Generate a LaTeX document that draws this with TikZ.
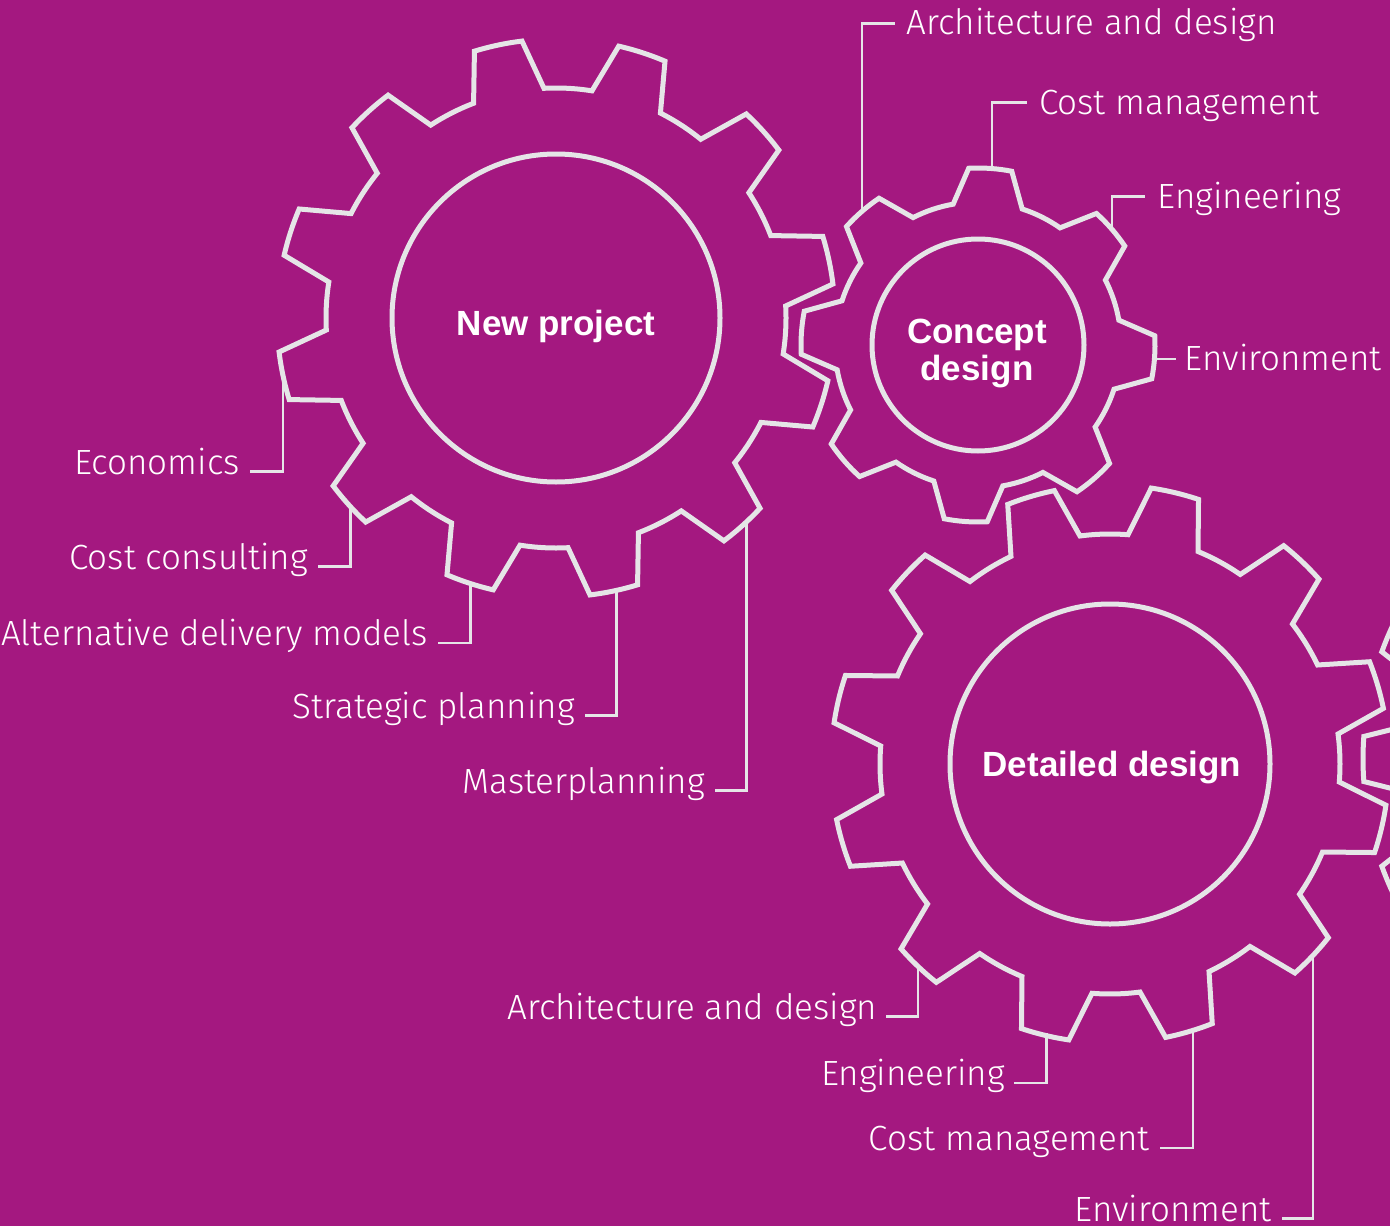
\documentclass[tikz,border=0pt]{standalone}
\usepackage{fontspec}
\setmainfont{Fira Sans Light}
\newfontfamily\titlefont{Liberation Sans Bold}

\definecolor{plum}{RGB}{164,24,128}
\definecolor{cog}{RGB}{229,229,231}

% cog outline: centre, tip radius, root radius, teeth, first tip angle, tip and flank width (deg)
\newcommand{\cogwheel}[7]{%
  \begin{scope}[shift={(#1)}]
    \pgfmathsetmacro{\cogpitch}{360/#4}
    \draw[cogline] ({#5-#6/2}:#2)
      \foreach \k [evaluate=\k as \a using #5+(\k-1)*\cogpitch] in {1,...,#4} {
        arc[start angle={\a-#6/2}, end angle={\a+#6/2}, radius=#2]
        -- ({\a+#6/2+#7}:#3)
        arc[start angle={\a+#6/2+#7}, end angle={\a+\cogpitch-#6/2-#7}, radius=#3]
        -- ({\a+\cogpitch-#6/2}:#2)
      } -- cycle;
  \end{scope}}

\begin{document}
\begin{tikzpicture}[x=1pt,y=1pt,line join=miter,
    cogline/.style={draw=cog, line width=5pt},
    hub/.style={circle, draw=cog, line width=5pt, inner sep=0pt},
    hubtitle/.style={text=white, font=\titlefont\fontsize{35}{37}\selectfont, align=center, inner sep=0pt},
    tagtext/.style={text=white, font=\fontsize{35}{40}\selectfont, inner sep=0pt},
    leader/.style={draw=cog, line width=2.4pt}]
      \useasboundingbox (0,0) rectangle (1390,-1226);
      \fill[plum] (0,0) rectangle (1390,-1226);
      \clip (0,0) rectangle (1390,-1226);
      % cogs
      \cogwheel{556,-318}{279}{230}{12}{12}{10}{4}
      \cogwheel{978,-345}{177}{143}{8}{41}{14}{7}
      \cogwheel{1110,-764}{279}{230}{12}{16.5}{10}{4}
      \cogwheel{1678,-759}{315}{266}{15}{180}{8.2}{3.5}
      % hubs
      \node[hub, minimum size=328] (newproj) at (556,-318) {};
      \node[hub, minimum size=212] (concept) at (978,-345) {};
      \node[hub, minimum size=320] (detailed) at (1110,-764) {};
      \node[hubtitle, anchor=base] (newprojname) at (556,-335) {New project};
      \node[hubtitle, anchor=base] (conceptname) at (977,-380) {Concept\\design};
      \node[hubtitle, anchor=base] (detailedname) at (1112,-776.7) {Detailed design};
      % New project
      \node[tagtext, anchor=base east] (econ) at (240,-474) {Economics};
      \node[tagtext, anchor=base east] (costcons) at (308,-569) {Cost consulting};
      \node[tagtext, anchor=base east] (altdel) at (428,-645.7) {Alternative delivery models};
      \node[tagtext, anchor=base east] (strat) at (575,-718.3) {Strategic planning};
      \node[tagtext, anchor=base east] (master) at (705,-793.3) {Masterplanning};
      \coordinate (econpin) at (283,-370);
      \coordinate (costconspin) at (350.5,-505);
      \coordinate (altdelpin) at (470.4,-582.5);
      \coordinate (stratpin) at (616.3,-589.3);
      \coordinate (masterpin) at (746.4,-520.5);
      \draw[leader] ([xshift=10]econ.mid east) -| (econpin);
      \draw[leader] ([xshift=10]costcons.mid east) -| (costconspin);
      \draw[leader] ([xshift=10]altdel.mid east) -| (altdelpin);
      \draw[leader] ([xshift=10]strat.mid east) -| (stratpin);
      \draw[leader] ([xshift=10]master.mid east) -| (masterpin);
      % Concept design
      \node[tagtext, anchor=base west] (archtwo) at (906.5,-34.5) {Architecture and design};
      \node[tagtext, anchor=base west] (costmtwo) at (1038.8,-114.5) {Cost management};
      \node[tagtext, anchor=base west] (engtwo) at (1157.4,-208.6) {Engineering};
      \node[tagtext, anchor=base west] (envtwo) at (1184.7,-370.7) {Environment};
      \coordinate (archtwopin) at (861.7,-213.3);
      \coordinate (costmtwopin) at (992,-169.9);
      \coordinate (engtwopin) at (1112,-231.4);
      \coordinate (envtwopin) at (1153.2,-358.6);
      \draw[leader] (archtwopin) |- ([xshift=-12,yshift=11]archtwo.base west);
      \draw[leader] (costmtwopin) |- ([xshift=-12,yshift=12]costmtwo.base west);
      \draw[leader] (engtwopin) |- ([xshift=-12,yshift=12]engtwo.base west);
      \draw[leader] (envtwopin) |- ([xshift=-9,yshift=12]envtwo.base west);
      % Detailed design
      \node[tagtext, anchor=base east] (archthree) at (877.4,-1019.3) {Architecture and design};
      \node[tagtext, anchor=base east] (engthree) at (1005,-1085.7) {Engineering};
      \node[tagtext, anchor=base east] (costmthree) at (1150,-1150.7) {Cost management};
      \node[tagtext, anchor=base east] (envthree) at (1272,-1221) {Environment};
      \coordinate (archthreepin) at (918,-965);
      \coordinate (engthreepin) at (1046.5,-1033.4);
      \coordinate (costmthreepin) at (1193,-1030.2);
      \coordinate (envthreepin) at (1313,-954.5);
      \draw[leader] ([xshift=9]archthree.mid east) -| (archthreepin);
      \draw[leader] ([xshift=9]engthree.mid east) -| (engthreepin);
      \draw[leader] ([xshift=10]costmthree.mid east) -| (costmthreepin);
      \draw[leader] ([xshift=10]envthree.mid east) -| (envthreepin);
\end{tikzpicture}
\end{document}
